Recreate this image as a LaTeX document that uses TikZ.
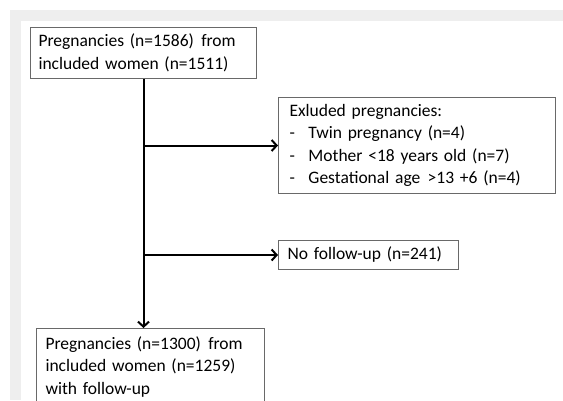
\documentclass[tikz,border=0pt]{standalone}
\usepackage{fontspec}
\setmainfont{Carlito}
\usetikzlibrary{arrows.meta}
\definecolor{framegray}{RGB}{238,238,238}
\definecolor{boxgray}{RGB}{105,105,105}
\begin{document}
\begin{tikzpicture}[x=1pt,y=-1pt,
  box/.style={draw=boxgray, line width=1pt, anchor=north west, align=left,
    inner ysep=4pt, font=\fontsize{17.5}{22.5}\selectfont, text=black},
  conn/.style={line width=2pt, -{Straight Barb[length=5pt,width=11pt]}}]
\useasboundingbox (0,0) rectangle (563,400);
\clip (0,0) rectangle (563,400);
\fill[framegray] (10,10) rectangle (563,400);
\fill[white] (21,21) rectangle (563,400);
\node[box, inner xsep=8pt, text width=210pt, minimum height=51pt] (a) at (30,27)
  {Pregnancies (n=1586) \hspace{1.5pt}from\\included women (n=1511)};
\node[box, inner xsep=11pt, text width=255pt, minimum height=96pt] (b) at (278,97)
  {Exluded pregnancies:\\
   \makebox[19pt][l]{-}Twin pregnancy (n=4)\\
   \makebox[19pt][l]{-}Mother <18 years old (n=7)\\
   \makebox[19pt][l]{-}Gestational age \hspace{1.5pt}>13 +6 (n=4)};
\node[box, inner xsep=9pt, text width=162pt, minimum height=29pt] (c) at (278,240)
  {No follow-up (n=241)};
\node[box, inner xsep=9pt, inner ysep=8pt, text width=210pt] (d) at (36,328)
  {Pregnancies (n=1300) \hspace{1.5pt}from\\included women (n=1259)\\with follow-up};
\draw[conn] (a.south) -- (a.south |- d.north);
\draw[conn] (a.south |- b.west) -- (b.west);
\draw[conn] (a.south |- c.west) -- (c.west);
\end{tikzpicture}
\end{document}
